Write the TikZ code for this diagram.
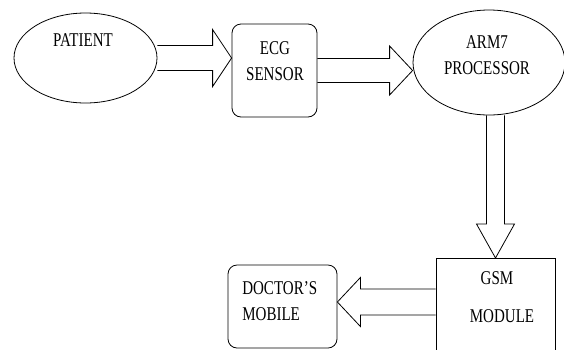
\documentclass[tikz,border=0pt]{standalone}
\usepackage{fontspec}
\setmainfont{Liberation Serif}
\usetikzlibrary{calc,shapes.geometric}
% block arrow: from, tip, shaft half width, head half width, head length
\newcommand{\fatarrow}[5]{%
\coordinate (fa) at ($(#2)!#5!(#1)$);
\draw ($(#1)!#3!90:(#2)$) -- ($(fa)!#3!90:(#2)$) -- ($(fa)!#4!90:(#2)$) -- (#2)
  -- ($(fa)!#4!-90:(#2)$) -- ($(fa)!#3!-90:(#2)$) -- ($(#1)!#3!-90:(#2)$);
}
\begin{document}
\begin{tikzpicture}[x=1pt,y=-1pt,line join=miter,line width=0.8pt]
\tikzset{every node/.style={inner sep=0pt},
  txt/.style={font=\fontsize{19.5}{26}\selectfont,xscale=0.77,align=center},
  oval/.style={draw,ellipse},
  rbox/.style={draw,rounded corners=9pt},
  sbox/.style={draw}}
\path[use as bounding box,fill=white] (0,0) rectangle (564,349);
% blocks
\node[oval,minimum width=143pt,minimum height=90pt] (pat) at (85.5,58) {};
\node[rbox,minimum width=85pt,minimum height=93pt] (ecg) at (274.5,70.5) {};
\node[oval,minimum width=152pt,minimum height=105pt] (arm) at (489,62.5) {};
\node[sbox,minimum width=119pt,minimum height=100pt,anchor=north] (gsm) at (495.5,258) {};
\node[rbox,minimum width=109pt,minimum height=83pt] (doc) at (282.5,306.5) {};
% texts
\node[txt] (patt) at (83,40) {PATIENT};
\node[txt] (ecgt) at (275,61.5) {ECG\\SENSOR};
\node[txt] (armt) at (487,55.5) {ARM7\\PROCESSOR};
\node[txt] (gsmt) at (497,278) {GSM};
\node[txt] (modt) at (502,316) {MODULE};
\node[txt,align=left,anchor=west] (doct) at (242,301) {DOCTOR'S\\MOBILE};
% arrows
\coordinate (t1) at (ecg.west |- pat.east);
\coordinate (t2) at (arm.west |- ecg.east);
\coordinate (s3) at (gsm.north |- arm.south);
\coordinate (t4) at ([yshift=4.5pt]doc.east);
\coordinate (s4) at (gsm.west |- t4);
\fatarrow{pat.east}{t1}{12.5pt}{28.5pt}{19pt}
\fatarrow{ecg.east}{t2}{12pt}{24.5pt}{23pt}
\fatarrow{s3}{gsm.north}{9pt}{19pt}{34pt}
\fatarrow{s4}{t4}{13pt}{24.5pt}{23pt}
\end{tikzpicture}
\end{document}
